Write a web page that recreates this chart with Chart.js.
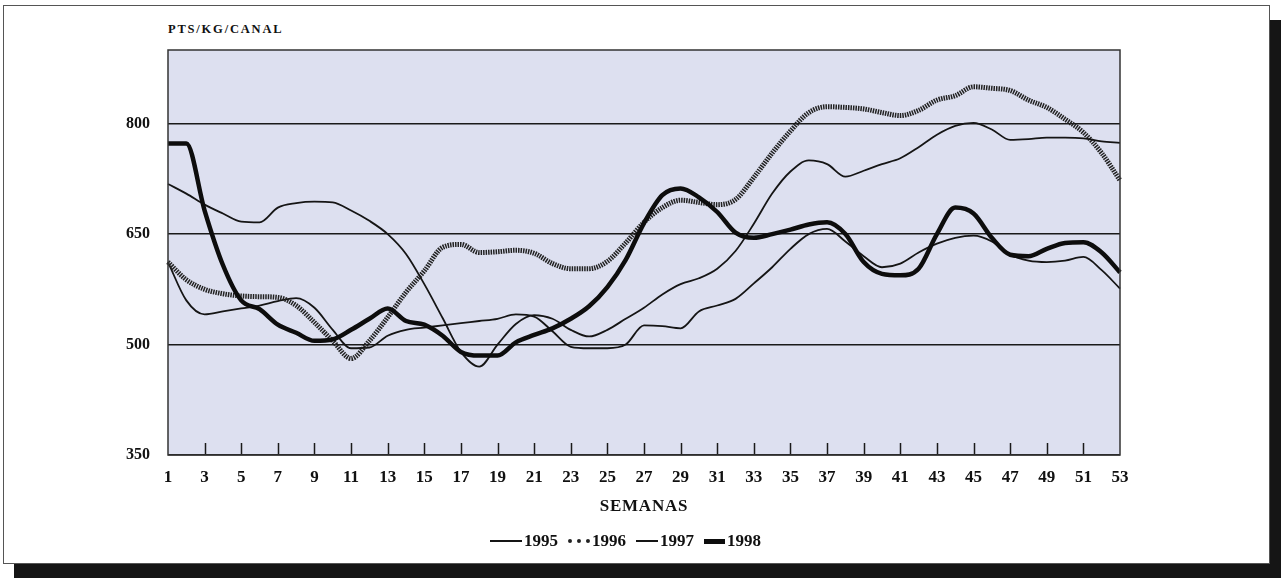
<!DOCTYPE html>
<html>
<head>
<meta charset="utf-8">
<script src="https://cdn.jsdelivr.net/npm/chart.js@4.4.1/dist/chart.umd.min.js"></script>
<style>
  html, body { margin: 0; padding: 0; background: #fff; }
  body { width: 1281px; height: 578px; position: relative; overflow: hidden; font-family: "Liberation Serif", "Times New Roman", serif; color: #111; }
  #shadow-r { position: absolute; left: 1269px; top: 20px; width: 12px; height: 558px; background: #151515; }
  #shadow-b { position: absolute; left: 14px; top: 563px; width: 1267px; height: 15px; background: #151515; }
  #frame { position: absolute; left: 3px; top: 5px; width: 1265px; height: 557px; border: 1px solid #555; background: #fff; }
  #wrap { position: absolute; left: 0; top: 0; width: 1281px; height: 578px; }
  #unit { position: absolute; left: 168px; top: 22px; font-size: 12.5px; font-weight: bold; letter-spacing: 1.8px; }
  #xtitle { position: absolute; left: 168px; width: 952px; top: 496px; text-align: center; font-size: 17px; font-weight: bold; letter-spacing: 0.8px; }
  #legend { position: absolute; left: 490px; top: 531px; display: flex; align-items: center; font-size: 17px; font-weight: bold; }
  #legend .item { display: flex; align-items: center; margin-right: 10px; }
  #legend .sample { display: inline-block; height: 0; margin-right: 2px; }
</style>
</head>
<body>
<div id="shadow-r"></div>
<div id="shadow-b"></div>
<div id="frame"></div>
<div id="unit">PTS/KG/CANAL</div>
<div id="wrap"><canvas id="chart" width="1281" height="578"></canvas></div>
<div id="xtitle">SEMANAS</div>
<div id="legend"></div>
<script>
const weeks = [1, 2, 3, 4, 5, 6, 7, 8, 9, 10, 11, 12, 13, 14, 15, 16, 17, 18, 19, 20,
  21, 22, 23, 24, 25, 26, 27, 28, 29, 30, 31, 32, 33, 34, 35, 36, 37, 38, 39, 40,
  41, 42, 43, 44, 45, 46, 47, 48, 49, 50, 51, 52, 53];
const yTicks = [350, 500, 650, 800];

const y1995 = [612, 560, 541, 545, 549, 553, 559, 563, 550, 520, 495, 496, 512, 520, 523, 526, 529, 532, 535, 541,
  538, 518, 497, 495, 495, 500, 526, 525, 522, 545, 553, 562, 583, 605, 630, 650, 657, 640, 620, 605,
  610, 625, 637, 645, 648, 640, 622, 614, 612, 614, 619, 601, 576];
const y1996 = [612, 588, 575, 569, 566, 565, 564, 553, 530, 505, 481, 505, 537, 571, 600, 632, 636, 625, 626, 628,
  624, 610, 603, 603, 613, 638, 666, 686, 696, 693, 690, 697, 727, 760, 790, 815, 823, 822, 820, 815,
  811, 818, 832, 838, 850, 848, 845, 832, 822, 806, 788, 760, 723];
const y1997 = [718, 705, 690, 678, 667, 666, 686, 692, 694, 693, 682, 668, 650, 623, 582, 536, 490, 470, 500, 528,
  540, 535, 520, 511, 520, 535, 550, 568, 582, 590, 603, 627, 664, 705, 735, 750, 745, 728, 736, 745,
  753, 768, 785, 797, 801, 792, 778, 779, 781, 781, 780, 776, 774];
const y1998 = [773, 773, 682, 608, 560, 548, 527, 516, 505, 507, 520, 535, 549, 532, 527, 512, 490, 485, 485, 503,
  513, 522, 535, 552, 578, 615, 665, 703, 712, 700, 680, 652, 645, 650, 656, 663, 666, 650, 612, 596,
  594, 603, 650, 686, 678, 645, 622, 620, 630, 638, 639, 625, 598];

const seriesNames = ["1995", "1996", "1997", "1998"];
const seriesData = [y1995, y1996, y1997, y1998];
const seriesStyle = [
  { width: 1.8, dash: [], color: "#151515", sample: "2px solid #151515", sampleW: 32 },
  { width: 5, dash: [1.5, 1], color: "#222", sample: "4px dotted #222", sampleW: 22 },
  { width: 1.8, dash: [], color: "#151515", sample: "2px solid #151515", sampleW: 22 },
  { width: 4.5, dash: [], color: "#0d0d0d", sample: "5px solid #0d0d0d", sampleW: 21 },
];

const FONT = "'Liberation Serif', 'Times New Roman', serif";

const plotDeco = {
  id: "plotDeco",
  beforeDraw(chart) {
    const { ctx, chartArea: a } = chart;
    ctx.save();
    ctx.fillStyle = "#dde0f0";
    ctx.fillRect(a.left, a.top, a.right - a.left, a.bottom - a.top);
    ctx.restore();
  },
  beforeDatasetsDraw(chart) {
    const { ctx, chartArea: a, scales } = chart;
    ctx.save();
    ctx.strokeStyle = "#1a1a1a";
    ctx.lineWidth = 1.5;
    weeks.forEach((w, i) => {
      if (w % 2 === 0 || i === 0 || i === weeks.length - 1) return;
      const x = Math.round(scales.x.getPixelForValue(i)) + 0.5;
      ctx.beginPath();
      ctx.moveTo(x, a.bottom);
      ctx.lineTo(x, a.bottom - 12);
      ctx.stroke();
    });
    ctx.restore();
  },
  afterDatasetsDraw(chart) {
    const { ctx, chartArea: a } = chart;
    ctx.save();
    ctx.strokeStyle = "#333";
    ctx.lineWidth = 1.5;
    ctx.strokeRect(a.left, a.top, a.right - a.left, a.bottom - a.top);
    ctx.restore();
  }
};

new Chart(document.getElementById("chart"), {
  type: "line",
  data: {
    labels: weeks,
    datasets: seriesNames.map((name, i) => ({
      label: name,
      data: seriesData[i],
      borderColor: seriesStyle[i].color,
      borderWidth: seriesStyle[i].width,
      borderDash: seriesStyle[i].dash,
      pointRadius: 0,
      fill: false,
      cubicInterpolationMode: "monotone",
      order: i === 3 ? 0 : 4 - i,
    }))
  },
  options: {
    responsive: false,
    animation: false,
    layout: { padding: { left: 100, right: 161, top: 50, bottom: 83 } },
    plugins: { legend: { display: false }, tooltip: { enabled: false } },
    scales: {
      x: {
        type: "category",
        offset: false,
        grid: { display: false, drawTicks: false },
        border: { display: false },
        ticks: {
          autoSkip: false, maxRotation: 0, padding: 12, color: "#111",
          font: { family: FONT, size: 17, weight: "bold" },
          callback: (v, i) => (weeks[i] % 2 === 1 ? String(weeks[i]) : "")
        },
        afterFit: s => { s.height = 40; }
      },
      y: {
        min: 350, max: 900,
        afterBuildTicks: s => { s.ticks = yTicks.map(v => ({ value: v })); },
        grid: { color: "#1a1a1a", lineWidth: 1.5, drawTicks: false },
        border: { display: false },
        ticks: { padding: 18, color: "#111", font: { family: FONT, size: 16, weight: "bold" } },
        afterFit: s => { s.width = 68; }
      }
    }
  },
  plugins: [plotDeco]
});

// legend
const legend = document.getElementById("legend");
seriesNames.forEach((name, i) => {
  const item = document.createElement("span");
  item.className = "item";
  const sample = document.createElement("span");
  sample.className = "sample";
  sample.style.width = seriesStyle[i].sampleW + "px";
  sample.style.borderTop = seriesStyle[i].sample;
  item.appendChild(sample);
  item.appendChild(document.createTextNode(name));
  legend.appendChild(item);
});
</script>
</body>
</html>
